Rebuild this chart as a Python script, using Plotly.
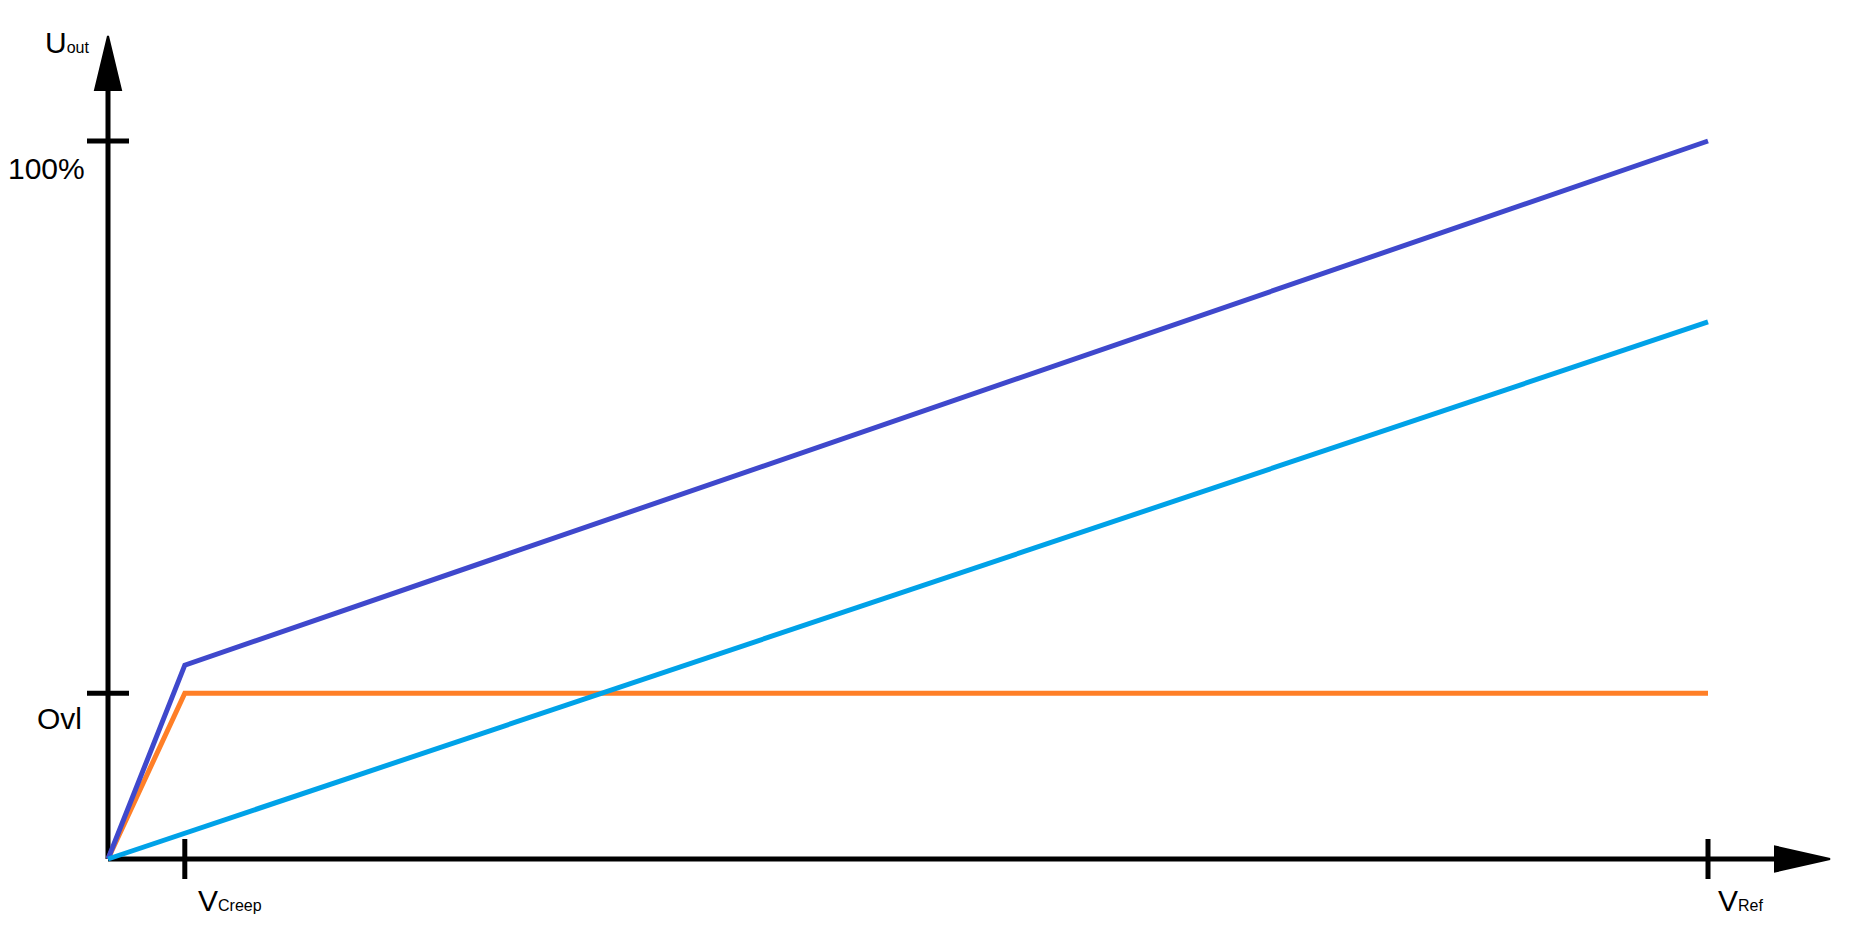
import plotly.graph_objects as go

# characteristic points (x in units of V_Ref, y in units of 100 %)
v_creep = 0.048
v_ref = 1.0
ovl = 0.231

x_kink = [0, v_creep, v_ref]
blue_y = [0, 0.270, 1.0]
orange_y = [0, ovl, ovl]
cyan_x = [0, v_ref]
cyan_y = [0, 0.748]

x_ticks = [v_creep, v_ref]
y_ticks = [ovl, 1.0]

# page has an 8px body margin, so the figure sits at (8, 8)
OFF = 8
W, H = 1872 - 2 * OFF, 950 - 2 * OFF
px_x = 1600.0  # pixels per x unit
px_y = 718.0   # pixels per y unit
x0_px, y0_px = 108 - OFF, 859 - OFF


def dx(px):
    # screen x pixel -> data x
    return (px - OFF - x0_px) / px_x


def dy(py):
    # screen y pixel -> data y
    return (y0_px - (py - OFF)) / px_y


BLACK = "#000000"

fig = go.Figure()
fig.add_trace(go.Scatter(x=x_kink, y=orange_y, mode="lines",
                         line=dict(color="#FF7F27", width=5)))
fig.add_trace(go.Scatter(x=x_kink, y=blue_y, mode="lines",
                         line=dict(color="#3F48CC", width=5)))
fig.add_trace(go.Scatter(x=cyan_x, y=cyan_y, mode="lines",
                         line=dict(color="#00A2E8", width=5)))

# axes with arrow heads
shapes = []
ax_line = dict(color=BLACK, width=5)
shapes.append(dict(type="line", x0=0, y0=0, x1=dx(1775), y1=0,
                   line=ax_line, layer="below"))
shapes.append(dict(type="line", x0=0, y0=0, x1=0, y1=dy(90),
                   line=ax_line, layer="below"))
hw = 12.5 / px_y
shapes.append(dict(type="path",
                   path=f"M {dx(1775)},{-hw} L {dx(1830)},0 L {dx(1775)},{hw} Z",
                   fillcolor=BLACK, line=dict(color=BLACK, width=2), layer="below"))
hw = 13 / px_x
shapes.append(dict(type="path",
                   path=f"M {-hw},{dy(90)} L 0,{dy(36)} L {hw},{dy(90)} Z",
                   fillcolor=BLACK, line=dict(color=BLACK, width=2), layer="below"))

tick_x = 21 / px_x
for yt in y_ticks:
    shapes.append(dict(type="line", x0=-tick_x, x1=tick_x, y0=yt, y1=yt,
                       line=ax_line, layer="below"))
tick_y = 20 / px_y
for xt in x_ticks:
    shapes.append(dict(type="line", x0=xt, x1=xt, y0=-tick_y, y1=tick_y,
                       line=ax_line, layer="below"))

FONT = "Liberation Sans, Arial, sans-serif"
big = dict(family=FONT, size=30, color=BLACK)


def sub(base, small):
    return f'{base}<span style="font-size:16px">{small}</span>'


annotations = [
    dict(x=dx(43), y=dy(42), text=sub("U", "out"), xanchor="left"),
    dict(x=dx(87), y=dy(168), text="100%", xanchor="right"),
    dict(x=dx(84), y=dy(718), text="Ovl", xanchor="right"),
    dict(x=dx(196), y=dy(900), text=sub("V", "Creep"), xanchor="left"),
    dict(x=dx(1716), y=dy(900), text=sub("V", "Ref"), xanchor="left"),
]
for a in annotations:
    a.update(showarrow=False, font=big, xref="x", yref="y", yanchor="middle")

fig.update_layout(
    width=W, height=H,
    margin=dict(l=0, r=0, t=0, b=0),
    paper_bgcolor="white", plot_bgcolor="white",
    showlegend=False,
    shapes=shapes,
    annotations=annotations,
    xaxis=dict(range=[-x0_px / px_x, (W - x0_px) / px_x], visible=False,
               fixedrange=True),
    yaxis=dict(range=[-(H - y0_px) / px_y, y0_px / px_y], visible=False,
               fixedrange=True),
)

fig.write_html("out.html", config={"displayModeBar": False})
